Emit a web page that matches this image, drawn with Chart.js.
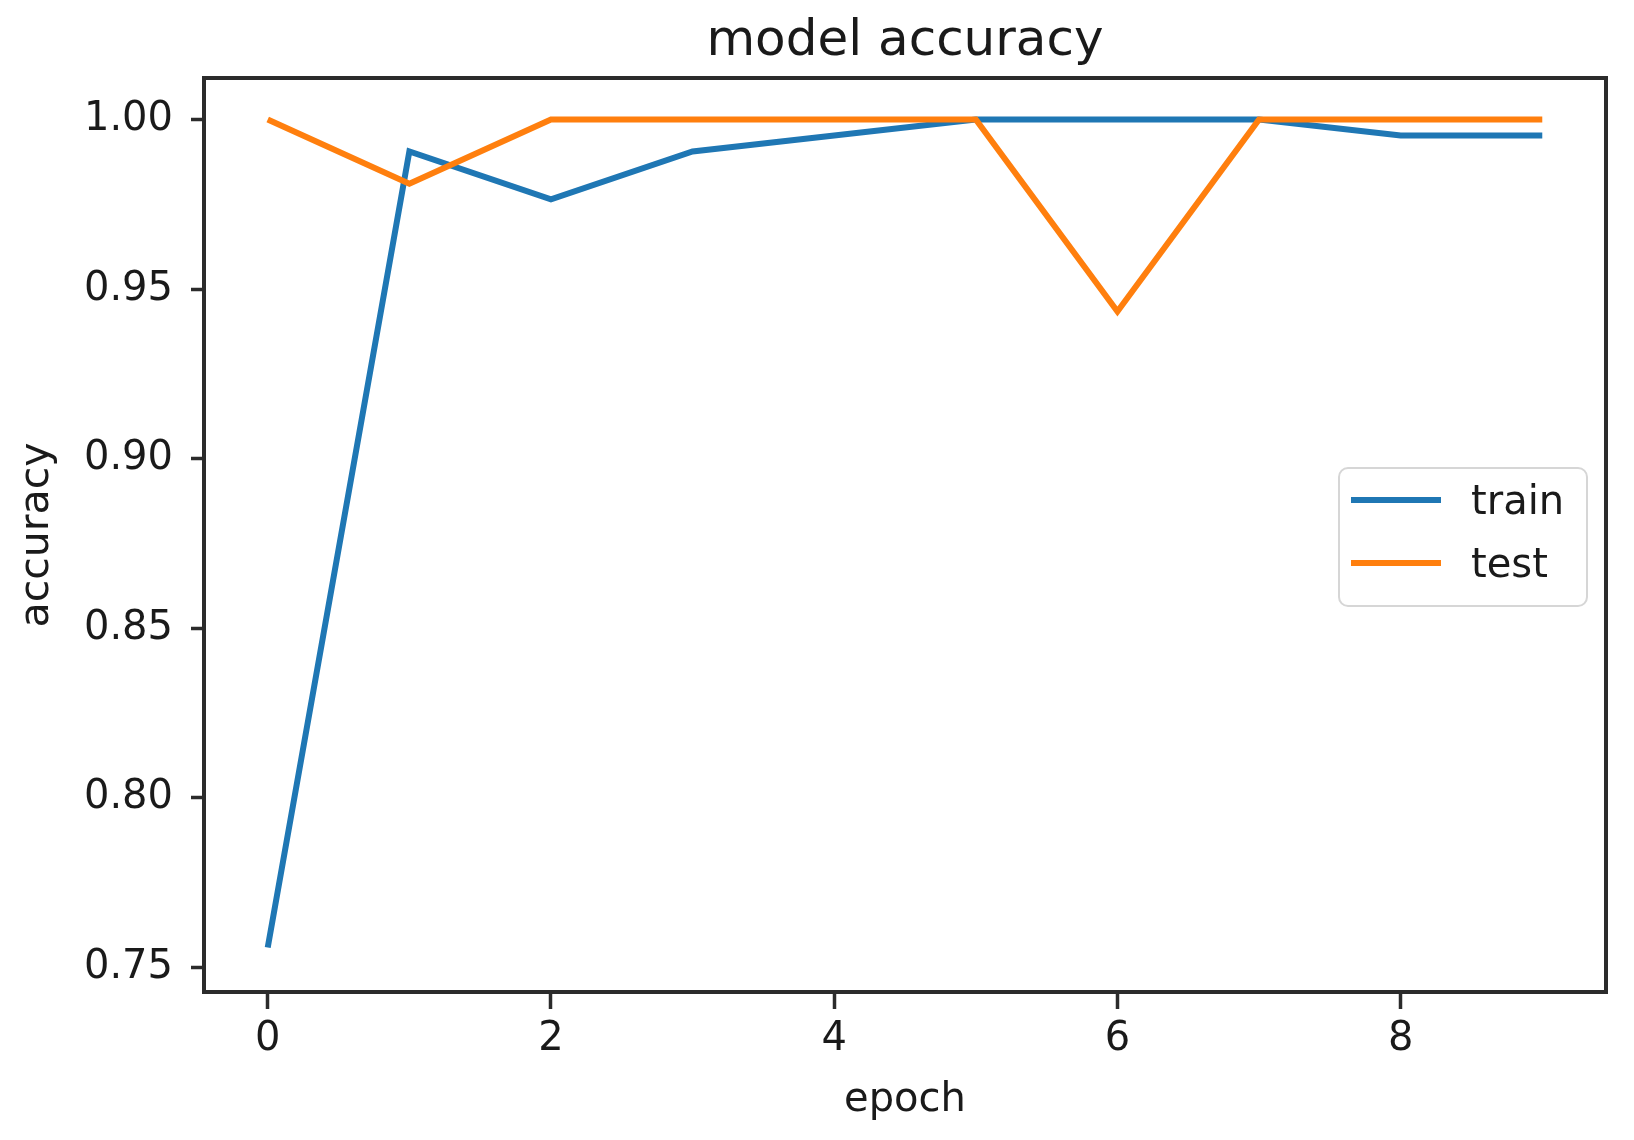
<!DOCTYPE html>
<html>
<head>
<meta charset="utf-8">
<script src="https://cdn.jsdelivr.net/npm/chart.js@4.4.1/dist/chart.umd.min.js"></script>
<style>
  html, body { margin: 0; padding: 0; background: #fff; }
  #wrap { width: 1634px; height: 1140px; }
</style>
</head>
<body>
<div id="wrap"><canvas id="chart"></canvas></div>
<script>
const epochs = [0, 1, 2, 3, 4, 5, 6, 7, 8, 9];
const train = [0.7559, 0.9906, 0.9765, 0.9906, 0.9953, 1.0, 1.0, 1.0, 0.9953, 0.9953];
const test = [1.0, 0.9811, 1.0, 1.0, 1.0, 1.0, 0.9434, 1.0, 1.0, 1.0];
const xTicks = [0, 2, 4, 6, 8];
const yTicks = [0.75, 0.8, 0.85, 0.9, 0.95, 1.0];

const FONT = "'DejaVu Sans', sans-serif";
const AXIS = "#2b2b2b";

const toPoints = (ys) => epochs.map((e, i) => ({ x: e, y: ys[i] }));

// box round the plot + legend inside the axes
const frameAndLegend = {
  id: "frameAndLegend",
  afterDatasetsDraw(chart) {
    const { ctx, chartArea: a } = chart;
    ctx.save();
    ctx.strokeStyle = AXIS;
    ctx.lineWidth = 4;
    ctx.strokeRect(a.left, a.top, a.right - a.left, a.bottom - a.top);

    const bx = 1339, by = 468, bw = 248, bh = 138;
    ctx.beginPath();
    ctx.roundRect(bx, by, bw, bh, 9);
    ctx.fillStyle = "rgba(255,255,255,0.8)";
    ctx.fill();
    ctx.strokeStyle = "#d6d6d6";
    ctx.lineWidth = 2;
    ctx.stroke();

    ctx.font = "40px " + FONT;
    ctx.textBaseline = "middle";
    ctx.fillStyle = "#1a1a1a";
    chart.data.datasets.forEach((ds, i) => {
      const y = by + 32 + i * 63;
      ctx.strokeStyle = ds.borderColor;
      ctx.lineWidth = 6;
      ctx.beginPath();
      ctx.moveTo(bx + 12, y);
      ctx.lineTo(bx + 102, y);
      ctx.stroke();
      ctx.fillText(ds.label, bx + 132, y + 4);
    });
    ctx.restore();
  },
};

new Chart(document.getElementById("chart"), {
  type: "line",
  data: {
    datasets: [
      {
        label: "train",
        data: toPoints(train),
        borderColor: "#1f77b4",
        borderWidth: 6,
        pointRadius: 0,
        tension: 0,
        order: 1,
      },
      {
        label: "test",
        data: toPoints(test),
        borderColor: "#ff7f0e",
        borderWidth: 6,
        pointRadius: 0,
        tension: 0,
        order: 0,
      },
    ],
  },
  options: {
    responsive: true,
    maintainAspectRatio: false,
    animation: false,
    layout: { padding: { left: 0, right: 28, top: 0, bottom: 0 } },
    plugins: {
      legend: { display: false },
      tooltip: { enabled: false },
      title: {
        display: true,
        text: "model accuracy",
        fullSize: false,
        color: "#1a1a1a",
        font: { family: FONT, size: 50, weight: "normal", lineHeight: 1.2 },
        padding: { top: 12, bottom: 6 },
      },
    },
    scales: {
      x: {
        type: "linear",
        min: -0.45,
        max: 9.45,
        afterBuildTicks: (s) => { s.ticks = xTicks.map((v) => ({ value: v })); },
        afterFit: (s) => { s.height = 148; },
        ticks: {
          color: "#1a1a1a",
          font: { family: FONT, size: 40, lineHeight: 1.2 },
          padding: 7,
          maxRotation: 0,
          callback: (v) => String(v),
        },
        grid: { drawOnChartArea: false, drawTicks: true, tickLength: 17, tickWidth: 3.5, tickColor: AXIS },
        border: { display: true, color: AXIS, width: 4 },
        title: {
          display: true,
          text: "epoch",
          color: "#1a1a1a",
          font: { family: FONT, size: 40, lineHeight: 1.2 },
          padding: { top: 0, bottom: 15 },
        },
      },
      y: {
        type: "linear",
        min: 0.74275,
        max: 1.01225,
        afterBuildTicks: (s) => { s.ticks = yTicks.map((v) => ({ value: v })); },
        afterFit: (s) => { s.width = 204; },
        ticks: {
          color: "#1a1a1a",
          font: { family: FONT, size: 40, lineHeight: 1.2 },
          padding: 18,
          callback: (v) => v.toFixed(2),
        },
        grid: { drawOnChartArea: false, drawTicks: true, tickLength: 13, tickWidth: 3.5, tickColor: AXIS },
        border: { display: true, color: AXIS, width: 4 },
        title: {
          display: true,
          text: "accuracy",
          color: "#1a1a1a",
          font: { family: FONT, size: 41, lineHeight: 1.2 },
          padding: { top: 13, bottom: 0 },
        },
      },
    },
  },
  plugins: [frameAndLegend],
});
</script>
</body>
</html>
